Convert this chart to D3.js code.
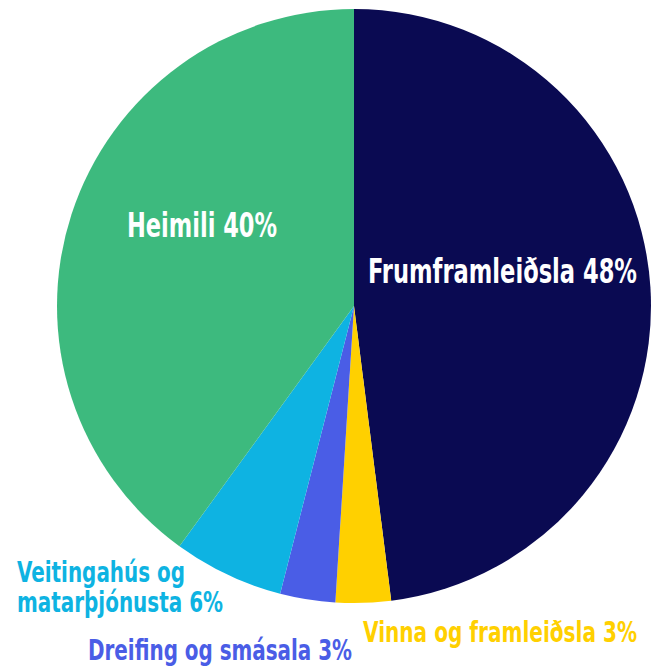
<!DOCTYPE html>
<html>
<head>
<meta charset="utf-8">
<script src="https://cdn.jsdelivr.net/npm/d3@7"></script>
<style>
  body { margin: 0; background: #fff; }
  svg text { font-family: "Liberation Sans Narrow", "DejaVu Sans Condensed", sans-serif; font-weight: bold; }
</style>
</head>
<body>
<div id="chart"></div>
<script>
// data
const categories = ["Frumframleiðsla", "Vinna og framleiðsla", "Dreifing og smásala", "Veitingahús og matarþjónusta", "Heimili"];
const values = [48, 3, 3, 6, 40];
const colors = ["#0a0a52", "#ffd000", "#4a5de6", "#0eb3e2", "#3dba7e"];

const width = 664, height = 667;
const cx = 354, cy = 306, radius = 297;

const svg = d3.select("#chart")
    .append("svg")
    .attr("width", width)
    .attr("height", height);

const pie = d3.pie().sort(null).value(d => d.value);
const arc = d3.arc().innerRadius(0).outerRadius(radius);

const slices = pie(categories.map((c, i) => ({ name: c, value: values[i], color: colors[i] })));

const g = svg.append("g").attr("transform", `translate(${cx},${cy})`);

g.selectAll("path")
    .data(slices)
    .enter()
    .append("path")
    .attr("d", arc)
    .attr("fill", d => d.data.color);

// label placement (hand tuned to match the original layout)
const labelLayout = [
    { lines: [`${categories[0]} ${values[0]}%`], x: 368, y: 283, size: 34, len: [269], fill: "#fff" },
    { lines: [`${categories[1]} ${values[1]}%`], x: 363, y: 642, size: 29, len: [274], fill: colors[1] },
    { lines: [`${categories[2]} ${values[2]}%`], x: 88, y: 660, size: 29, len: [264], fill: colors[2] },
    { lines: ["Veitingahús og", `matarþjónusta ${values[3]}%`], x: 17, y: 582, size: 29, len: [168, 206], fill: colors[3] },
    { lines: [`${categories[4]} ${values[4]}%`], x: 127, y: 237, size: 33, len: [150], fill: "#fff" }
];

labelLayout.forEach(l => {
    l.lines.forEach((line, i) => {
        svg.append("text")
            .attr("x", l.x)
            .attr("y", l.y + i * 30)
            .attr("font-size", l.size)
            .attr("fill", l.fill)
            .attr("textLength", l.len[i])
            .attr("lengthAdjust", "spacingAndGlyphs")
            .text(line);
    });
});
</script>
</body>
</html>
